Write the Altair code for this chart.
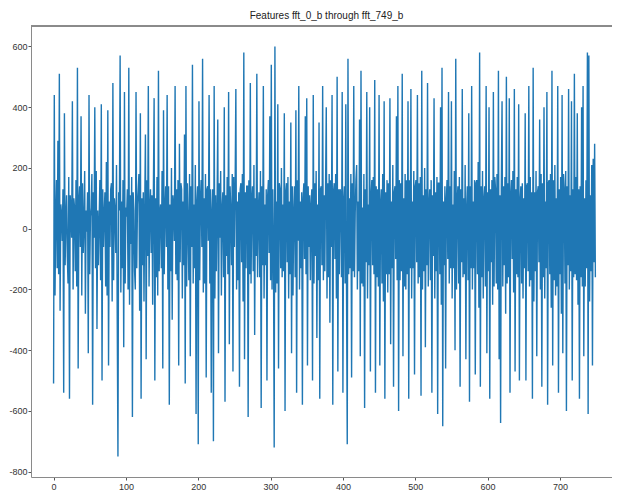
import altair as alt
import pandas as pd

TITLE = "Features fft_0_b through fft_749_b"

rows = [
    [-510, 440, -220, 40, 160, -130, 290, -150, 510, -270, 80, 50, -40, 130, -540, 380, -120, 30, 110, -90, -180, 170, -560, 110, 60],
    [-30, 420, -200, 100, 70, -140, 160, -190, 530, -460, 90, 140, -60, 370, -220, 150, -80, 20, 190, -280, 60, -10, 120, -410, 440],
    [-150, 40, 70, 180, -580, 120, -30, 400, -130, 190, -330, 60, -120, 30, 160, -170, 410, -500, 130, -60, 50, 120, -190, 220, -220],
    [390, -450, 90, -60, 130, 150, -240, 480, -170, 100, 60, -80, 210, -290, -750, 120, 60, 570, -210, 90, -130, 160, -390, 450, -180],
    [70, 40, 130, -200, 530, -250, 110, -50, 170, -620, 120, 60, -140, -200, 450, -130, 80, 130, 180, -270, 380, -560, 100, -120, 120],
    [-240, 60, 310, -430, 160, -90, 470, -190, 60, 130, -80, 110, -250, 120, 430, -500, 100, -160, 170, -220, 520, -140, 50, 80, -130],
    [190, -460, 390, -150, 60, 140, -60, 440, -200, 140, -580, 80, -140, 200, -300, 110, 70, -40, 470, -150, 130, -170, 160, -450, 280],
    [-110, 150, 130, -230, 90, -120, 310, -510, 470, -190, 150, 20, -170, 180, -420, 140, -60, 540, -180, 80, -130, 210, -610, 90, 140],
    [-710, 420, -170, 90, 160, -60, 560, -210, 100, -180, 180, -490, 130, 140, -40, 440, -180, 130, -540, 60, 130, -700, 470, -230, 110],
    [-140, 60, 360, -410, 150, -30, 190, -220, 70, 120, -160, 400, -570, 110, -90, 170, -150, 450, -380, 140, 60, -120, 180, -470, 170],
    [-60, 130, 460, -200, 90, -170, 120, -520, 130, 150, -110, 180, -240, 580, -430, 120, -130, 140, 140, -620, 160, -150, 480, -180, 90],
    [140, -140, 210, -350, 100, -90, 510, -160, 50, 120, -160, 190, -590, 140, -120, 470, -230, 80, -120, 130, -500, 110, 160, -80, 370],
    [-170, 540, -200, 130, -70, -720, 600, -210, 90, -180, 410, -460, 150, 130, -130, 200, -160, 80, -140, 380, -600, 120, 150, -110, 170],
    [-230, 90, -150, 350, -410, 140, -220, 60, 140, -160, 390, -540, 160, -40, 470, -200, 90, -130, 120, -580, 100, 150, -100, 370, -150],
    [430, -450, 140, -60, 110, -170, 80, 130, -500, 440, -180, 150, -90, 190, -360, 80, -170, 350, -560, 130, 140, -120, 470, -170, 110],
    [-140, 130, 400, -230, 150, -160, 180, -310, 160, -60, 440, -580, 120, 150, -100, 180, -230, 500, -470, 130, -150, 130, 120, -160, 450],
    [-540, 90, 140, -180, 410, -200, -710, 560, -150, 100, -130, 180, -490, 150, -140, 470, -160, 50, 160, 210, -200, 90, -140, 360, -420],
    [520, -180, 70, -190, 180, -590, 130, -110, 450, -230, 80, -120, 400, -470, 110, 160, -120, 170, -150, 490, -540, 140, -160, 130, -190],
    [440, -450, 80, 130, -180, 180, -240, 420, -560, 120, -150, 160, -210, 150, -150, 430, -380, 90, -130, 210, -520, 120, 140, -100, 370],
    [-170, 470, -600, 160, -170, 150, -140, 510, -420, 100, -190, 180, -200, 160, -150, 420, -560, 160, -130, 460, -230, 90, -130, 190, -480],
    [140, 160, -110, 440, -180, 150, -160, 170, -550, 520, -200, 110, -140, 200, -390, 130, -120, 480, -190, 70, 130, -170, 160, -540, 110],
    [-90, 430, -230, 120, -140, 170, -610, 150, 150, -150, 400, -250, 530, -650, 90, -120, 140, -460, 100, 160, -100, 450, -180, 140, -130],
    [420, -230, 80, -130, 190, -400, 560, -200, 90, 140, -180, 170, -520, 130, -110, 460, -160, 100, -150, 210, -430, 70, 140, -170, 380],
    [-570, 140, -130, 470, -200, 90, -130, 160, -480, 150, 160, -150, 220, -260, 580, -520, 140, -160, 190, -230, 100, 140, -190, 470, -410],
    [120, -140, 400, -560, 130, -110, 160, -250, 450, -190, 170, 130, -180, 180, -200, 520, -430, 110, -640, 130, 420, -190, 140, -120, 170],
    [-280, 500, -180, 150, -160, 430, -540, 110, 160, -100, 190, -210, 460, -470, 130, -150, 170, -160, 410, -500, 90, 140, -180, 150, -230],
    [100, -130, 380, -500, 140, 150, -140, 470, -190, 170, -170, 120, -560, 530, -240, 120, -140, 190, -420, 120, 140, -110, 360, -200, 180],
    [-520, 150, -160, 400, -230, 90, -130, 450, -580, 150, 160, -150, 180, -260, 520, -450, 160, -170, 210, -220, 100, -190, 470, -540, 130],
    [-150, 170, -280, 440, -410, 180, 130, -180, 190, -600, 140, -120, 460, -200, 110, -140, 420, -500, 130, -160, 510, -150, 170, -170, 380],
    [-250, 130, -560, 140, -160, 400, -190, 470, -420, 100, -190, 160, -130, 580, -610, 570, -240, 110, -140, 210, -450, 230, -110, 280, -160],
]

values = [v for r in rows for v in r]
index = list(range(len(values)))

x_ticks = [0, 100, 200, 300, 400, 500, 600, 700]
y_ticks = [-800, -600, -400, -200, 0, 200, 400, 600]

df = pd.DataFrame({"i": index, "v": values})

W, H = 581, 451
FONT = "Liberation Sans"
FRAME = "#8a8a8a"

line = alt.Chart(df).mark_line(color="#1f77b4", strokeWidth=1.4, clip=True).encode(
    x=alt.X("i:Q", scale=alt.Scale(domain=[-31.2, 772], nice=False, zero=False),
            axis=alt.Axis(values=x_ticks, title=None, grid=False, tickSize=3,
                          labelPadding=2, labelFont=FONT, labelFontSize=9,
                          labelColor="#333", tickColor="#555", domainColor=FRAME,
                          labelFlush=False)),
    y=alt.Y("v:Q", scale=alt.Scale(domain=[-817.5, 667.5], nice=False, zero=False),
            axis=alt.Axis(values=y_ticks, title=None, grid=False, tickSize=3,
                          labelPadding=1, labelFont=FONT, labelFontSize=9,
                          labelExpr="'' + datum.value",
                          labelColor="#333", tickColor="#555", domainColor=FRAME,
                          labelFlush=False)),
)

top = alt.Chart(df).mark_rule(color=FRAME, strokeWidth=1).encode(
    x=alt.value(0), x2=alt.value(W), y=alt.value(0)
)

chart = alt.layer(line, top).properties(
    width=W, height=H,
    title=alt.TitleParams(TITLE, font="Liberation Sans Narrow, Liberation Sans",
                          fontSize=10, fontWeight="normal", color="#222",
                          anchor="middle", offset=5, dx=5),
    autosize=alt.AutoSizeParams(type="none"),
    padding={"left": 23, "top": 18, "right": 0, "bottom": 16},
).configure_view(stroke=None)

chart.save("out.html", embed_options={"renderer": "svg", "actions": False})
